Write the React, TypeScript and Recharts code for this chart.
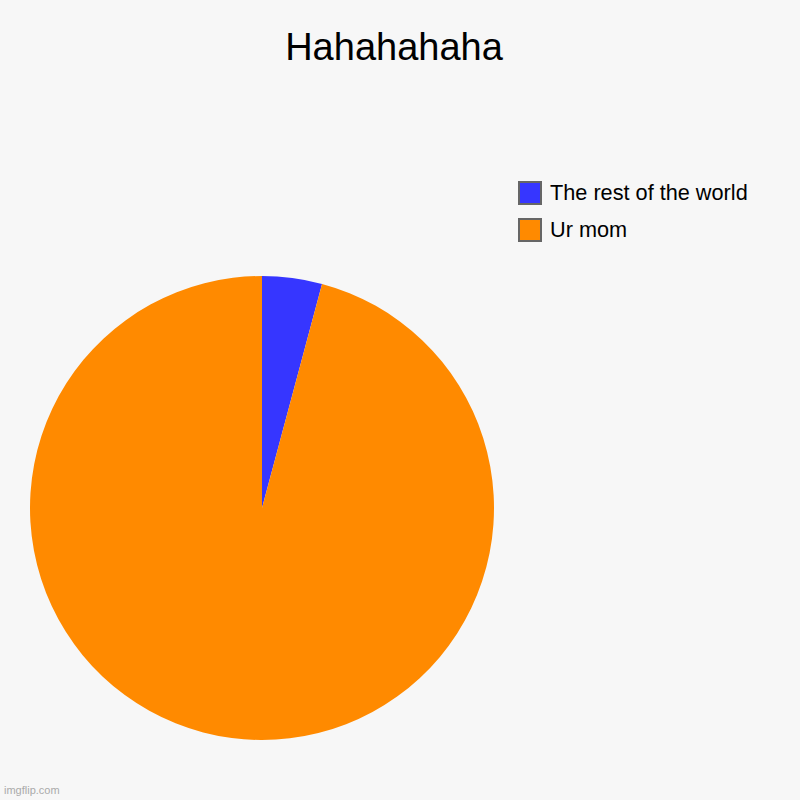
import React from "react";
import { PieChart, Pie, Cell, Legend } from "recharts";

const categories = ["The rest of the world", "Ur mom"];
const values = [4, 92];
const colors = ["#3636ff", "#ff8a00"];
const title = "Hahahahaha";

const data = categories.map((name, i) => ({ name, value: values[i] }));

const font = "'Liberation Sans', Arial, Helvetica, sans-serif";

const LegendContent = () => (
  <div style={{ fontFamily: font }}>
    {categories.map((name, i) => (
      <div
        key={name}
        style={{ display: "flex", alignItems: "center", height: 24, marginBottom: i === 0 ? 13 : 0 }}
      >
        <div
          style={{
            width: 20,
            height: 20,
            background: colors[i],
            border: "2px solid #666",
            marginRight: 8,
          }}
        />
        <span style={{ fontSize: 21.7, color: "#000", lineHeight: "24px" }}>{name}</span>
      </div>
    ))}
  </div>
);

export default function App() {
  return (
    <div
      style={{
        position: "absolute",
        top: 0,
        left: 0,
        width: 800,
        height: 800,
        background: "#f7f7f7",
        fontFamily: font,
      }}
    >
      <div
        style={{
          position: "absolute",
          top: 22,
          left: 0,
          width: 788,
          textAlign: "center",
          fontSize: 38,
          lineHeight: "50px",
          color: "#000",
        }}
      >
        {title}
      </div>
      <PieChart width={800} height={800} margin={{ top: 0, right: 0, bottom: 0, left: 0 }}>
        <Pie
          data={data}
          dataKey="value"
          nameKey="name"
          cx={262}
          cy={508}
          outerRadius={232}
          startAngle={90}
          endAngle={-270}
          stroke="none"
          isAnimationActive={false}
        >
          {data.map((d, i) => (
            <Cell key={d.name} fill={colors[i]} />
          ))}
        </Pie>
        <Legend
          content={<LegendContent />}
          wrapperStyle={{ position: "absolute", top: 181, left: 518, width: 270 }}
        />
      </PieChart>
      <div
        style={{
          position: "absolute",
          left: 4,
          top: 784,
          fontSize: 11,
          color: "#aaa",
        }}
      >
        imgflip.com
      </div>
    </div>
  );
}
